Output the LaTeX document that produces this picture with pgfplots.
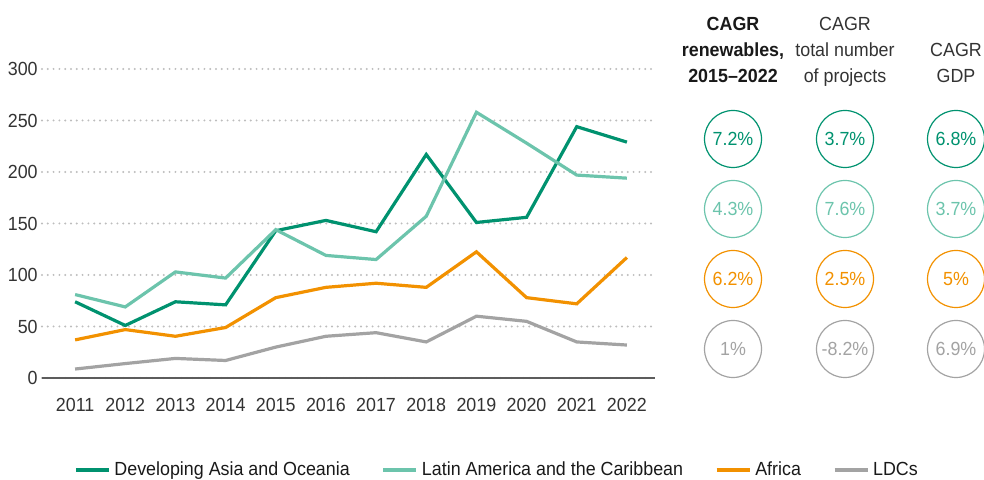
\documentclass[border=0pt]{standalone}
\usepackage{fontspec}
\setmainfont[FakeStretch=0.94]{Liberation Sans}
\usepackage{pgfplots}
\pgfplotsset{compat=1.18}
\definecolor{cAsia}{HTML}{00926F}
\definecolor{cLatam}{HTML}{6CC4AC}
\definecolor{cAfrica}{HTML}{F29100}
\definecolor{cLdc}{HTML}{A3A3A3}
\definecolor{cText}{HTML}{333333}
\definecolor{cGrid}{HTML}{BDBDBD}

\begin{document}
\fontsize{9.5}{11}\selectfont
\begin{tikzpicture}
\useasboundingbox (0,0) rectangle (492pt,240pt);
\begin{axis}[
    at={(21pt,51pt)}, anchor=south west,
    scale only axis, width=306.5pt, height=154.5pt, clip=false,
    xmin=2010.34, xmax=2022.56, ymin=0, ymax=300,
    xtick={2011,...,2022}, ytick={0,50,...,300},
    /pgf/number format/1000 sep={}, /pgf/number format/assume math mode=true,
    axis lines=left, axis line style={-},
    y axis line style={draw=none},
    x axis line style={draw=cText!80, line width=1.1pt},
    major tick length=0pt,
    ymajorgrids, major grid style={cGrid, line width=1.1pt, line cap=round, dash pattern=on 0pt off 2.9pt},
    tick label style={font=\fontsize{9.5}{11}\selectfont, text=cText},
    xticklabel style={yshift=-7pt},
    yticklabel style={xshift=1.2pt},
    every axis plot/.append style={line width=1.6pt},
    legend columns=4,
    legend cell align=left,
    legend image code/.code={\draw[#1] (0pt,0pt) -- (16.5pt,0pt);},
    legend style={at={(0.052,-0.2977)}, anchor=west, draw=none, fill=none, inner sep=0pt,
        font=\fontsize{9.5}{11}\selectfont, text=black!90,
        /tikz/every even column/.append style={column sep=14pt}},
]
\addplot[cAsia] coordinates {(2011,74) (2012,51) (2013,74) (2014,71) (2015,143) (2016,153) (2017,142) (2018,217) (2019,151) (2020,156) (2021,244) (2022,229)};
\addlegendentry{Developing Asia and Oceania}
\addplot[cLatam] coordinates {(2011,81) (2012,69) (2013,103) (2014,97) (2015,144) (2016,119) (2017,115) (2018,157) (2019,258) (2020,228) (2021,197) (2022,194)};
\addlegendentry{Latin America and the Caribbean}
\addplot[cAfrica] coordinates {(2011,37) (2012,47) (2013,40.5) (2014,49) (2015,78) (2016,88) (2017,92) (2018,88) (2019,122.5) (2020,78) (2021,72) (2022,117)};
\addlegendentry{Africa}
\addplot[cLdc] coordinates {(2011,8.7) (2012,14) (2013,19) (2014,17) (2015,30) (2016,40.5) (2017,44) (2018,35) (2019,60) (2020,55) (2021,35) (2022,32)};
\addlegendentry{LDCs}
\end{axis}
% column headers
\node[anchor=base, font=\bfseries, text=black!90] at (366.5pt,224.6pt) {CAGR};
\node[anchor=base, font=\bfseries, text=black!90] at (366.5pt,211.6pt) {renewables,};
\node[anchor=base, font=\bfseries, text=black!90] at (366.5pt,198.6pt) {2015--2022};
\node[anchor=base, text=cText] at (422.5pt,224.6pt) {CAGR};
\node[anchor=base, text=cText] at (422.5pt,211.6pt) {total number};
\node[anchor=base, text=cText] at (422.5pt,198.6pt) {of projects};
\node[anchor=base, text=cText] at (478pt,211.6pt) {CAGR};
\node[anchor=base, text=cText] at (478pt,198.6pt) {GDP};
% CAGR circles
\tikzset{cagr/.style={circle, draw=#1, text=#1, line width=0.6pt, minimum size=28.5pt, inner sep=0pt}}
\node[cagr=cAsia] at (366.5pt,170.5pt) {7.2\%};
\node[cagr=cAsia] at (422.5pt,170.5pt) {3.7\%};
\node[cagr=cAsia] at (478pt,170.5pt) {6.8\%};
\node[cagr=cLatam] at (366.5pt,135.5pt) {4.3\%};
\node[cagr=cLatam] at (422.5pt,135.5pt) {7.6\%};
\node[cagr=cLatam] at (478pt,135.5pt) {3.7\%};
\node[cagr=cAfrica] at (366.5pt,100.5pt) {6.2\%};
\node[cagr=cAfrica] at (422.5pt,100.5pt) {2.5\%};
\node[cagr=cAfrica] at (478pt,100.5pt) {5\%};
\node[cagr=cLdc] at (366.5pt,65.5pt) {1\%};
\node[cagr=cLdc] at (422.5pt,65.5pt) {-8.2\%};
\node[cagr=cLdc] at (478pt,65.5pt) {6.9\%};
\end{tikzpicture}
\end{document}
